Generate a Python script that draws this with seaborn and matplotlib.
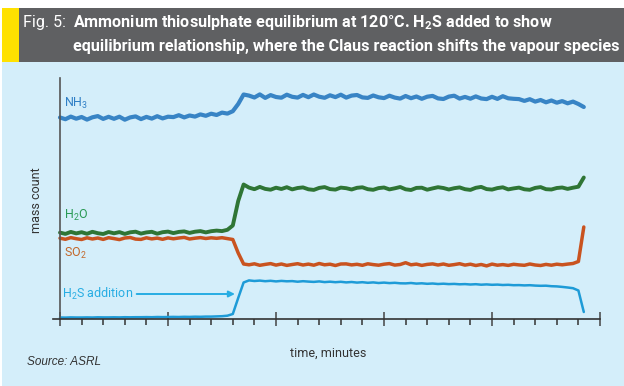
import numpy as np
import matplotlib.pyplot as plt
import seaborn as sns
from matplotlib.patches import Rectangle

# time axis (minutes), one sample every quarter minute
minutes = np.arange(0, 24.5, 0.25)

# mass count traces (arbitrary units)
nh3 = [201.5, 199.8, 202.4, 200.3, 202.0, 199.4, 201.7, 202.9, 200.1, 202.2,
       200.2, 202.3, 199.3, 201.6, 202.6, 199.9, 202.1, 200.4, 202.8, 200.6,
       202.3, 201.9, 203.8, 201.6, 203.5, 202.4, 204.6, 203.2, 205.3, 204.0,
       206.4, 205.4, 207.8, 215.0, 224.5,
       223.4, 221.5, 224.6, 221.1, 223.9, 222.0, 221.3, 224.3, 222.2, 221.4,
       224.1, 221.8, 224.5, 222.3, 221.2, 223.7, 221.9, 224.3, 221.4, 223.4,
       224.0, 221.6, 221.1, 223.5, 221.7, 220.9, 223.3, 221.4, 220.4, 223.0,
       220.8, 222.5, 220.2, 222.3, 223.1, 220.6, 220.0, 222.4, 223.3, 220.4,
       222.1, 220.3, 222.6, 220.5, 219.9, 222.2, 220.1, 222.8, 220.7, 220.2,
       219.9, 218.1, 219.8, 217.4, 219.0, 216.7, 218.5, 216.3, 217.9, 215.7,
       217.4, 215.0, 212.0]

h2o = [86.4, 85.1, 87.1, 85.6, 86.8, 85.2, 87.2, 85.8, 85.0, 87.0,
       85.7, 86.9, 85.1, 86.7, 87.3, 85.4, 86.6, 87.2, 85.3, 86.8,
       87.4, 85.9, 87.1, 87.6, 86.1, 87.3, 87.9, 86.6, 87.8, 88.4,
       87.9, 89.2, 93.5, 118.0, 134.5,
       131.4, 129.8, 132.1, 130.1, 129.3, 131.3, 130.0, 131.8, 129.6, 131.0,
       131.6, 129.7, 129.1, 131.1, 131.9, 129.9, 129.4, 131.4, 130.8, 129.5,
       131.2, 131.7, 129.8, 129.2, 130.9, 131.5, 129.6, 130.7, 132.0, 129.7,
       129.0, 131.1, 131.3, 129.3, 130.6, 131.8, 131.0, 129.5, 130.8, 131.6,
       129.8, 129.1, 131.2, 132.1, 129.9, 129.4, 130.9, 131.7, 129.6, 130.6,
       131.4, 129.7, 129.2, 131.1, 131.9, 129.8, 129.5, 131.0, 131.5, 130.1,
       131.3, 132.3, 141.5]

so2 = [80.8, 79.7, 81.4, 80.3, 79.5, 81.2, 80.0, 81.0, 79.6, 81.3,
       80.4, 79.4, 81.0, 81.5, 79.9, 79.6, 81.2, 80.1, 80.9, 79.7,
       81.1, 80.2, 81.0, 81.6, 80.0, 80.8, 81.4, 80.5, 81.2, 80.7,
       81.3, 80.4, 79.5, 66.0, 55.0,
       54.2, 55.2, 53.7, 54.6, 55.4, 53.9, 55.0, 53.6, 54.5, 55.3,
       54.0, 54.9, 53.8, 55.5, 54.2, 54.8, 53.5, 55.0, 55.1, 54.1,
       54.7, 53.7, 55.2, 54.4, 53.8, 54.8, 55.4, 53.9, 54.5, 56.3,
       54.2, 54.9, 53.6, 54.6, 55.1, 54.0, 55.0, 53.7, 54.4, 55.3,
       53.9, 54.8, 53.5, 54.5, 53.1, 54.9, 53.8, 54.4, 53.6, 54.7,
       54.1, 53.7, 55.0, 54.0, 53.5, 54.6, 53.8, 54.8, 54.2, 54.9,
       55.5, 57.5, 92.0]

h2s = [1.5, 1.4, 1.6, 1.5, 1.5, 1.6, 1.5, 1.7, 1.6, 1.6,
       1.7, 1.6, 1.8, 1.7, 1.8, 1.8, 1.9, 1.8, 2.0, 1.9,
       2.0, 2.1, 2.0, 2.2, 2.1, 2.3, 2.2, 2.4, 2.4, 2.6,
       2.8, 3.3, 5.0, 21.0, 36.5,
       38.6, 38.0, 38.4, 37.8, 38.2, 37.6, 38.1, 37.7, 37.9, 37.3,
       37.8, 37.4, 37.1, 37.6, 36.9, 37.3, 36.8, 37.2, 36.6, 37.0,
       36.4, 36.8, 36.2, 36.6, 36.0, 36.4, 35.9, 36.2, 35.7, 35.6,
       36.0, 35.4, 35.7, 35.2, 35.5, 35.0, 35.3, 34.9, 35.1, 34.7,
       34.9, 34.5, 34.8, 34.3, 34.6, 34.2, 34.4, 34.0, 34.2, 33.8,
       33.9, 33.6, 33.8, 33.4, 33.2, 33.3, 32.8, 32.6, 32.1, 31.5,
       30.8, 28.5, 7.0]

# style
sns.set_style("white")
plt.rcParams['font.family'] = ['Roboto', 'DejaVu Sans']
plt.rcParams['mathtext.fontset'] = 'custom'
plt.rcParams['mathtext.rm'] = 'Roboto'
plt.rcParams['mathtext.it'] = 'Roboto:italic'
plt.rcParams['mathtext.bf'] = 'Roboto:bold'

W, H = 624, 386
bg = '#d4eefa'
fig = plt.figure(figsize=(W / 100, H / 100), dpi=100)
fig.patch.set_facecolor('white')

# panel background, title bar and yellow tab
fig.add_artist(Rectangle((2 / W, 0), 1, 1 - 62 / H, transform=fig.transFigure,
                         facecolor=bg, edgecolor='none', zorder=0))
fig.add_artist(Rectangle((2 / W, 1 - 62 / H), 1, 54 / H, transform=fig.transFigure,
                         facecolor='#5f6062', edgecolor='none', zorder=0))
fig.add_artist(Rectangle((2 / W, 1 - 62 / H), 17 / W, 54 / H, transform=fig.transFigure,
                         facecolor='#ffe100', edgecolor='none', zorder=0))

# title: size chosen so that the second line fills the bar
renderer = fig.canvas.get_renderer()
t_fig = fig.text(23 / W, 1 - 22 / H, "Fig. 5:", color='white', fontsize=10, va='center')
t_l1 = fig.text(73 / W, 1 - 22 / H,
                r"Ammonium thiosulphate equilibrium at 120°C. H$_\mathbf{2}$S added to show",
                color='white', fontsize=10, fontweight='bold', va='center')
t_l2 = fig.text(73 / W, 1 - 46 / H,
                "equilibrium relationship, where the Claus reaction shifts the vapour species",
                color='white', fontsize=10, fontweight='bold', va='center')
w2 = t_l2.get_window_extent(renderer).width
size = 10 * (621 - 73) / w2
for t in (t_fig, t_l1, t_l2):
    t.set_fontsize(size)

# plot area
ax = fig.add_axes([53 / W, 1 - 319 / H, (600 - 53) / W, (319 - 78) / H])
ax.set_facecolor('none')

sns.lineplot(x=minutes, y=nh3, ax=ax, color='#3884c5', lw=3.0)
sns.lineplot(x=minutes, y=h2o, ax=ax, color='#2f7535', lw=2.8)
sns.lineplot(x=minutes, y=so2, ax=ax, color='#c9531f', lw=2.5)
sns.lineplot(x=minutes, y=h2s, ax=ax, color='#1e9bd7', lw=1.8)

ax.set_xlim(-7 / 21.6, 25)
ax.set_ylim(0, 241)
ax.spines['left'].set_position(('data', 0))
ax.spines['left'].set_color('#555555')
ax.spines['left'].set_linewidth(1.2)
ax.spines['bottom'].set_color('#333333')
ax.spines['bottom'].set_linewidth(1.2)
ax.spines['top'].set_visible(False)
ax.spines['right'].set_visible(False)

ax.set_xticks([0, 5, 10, 15, 20, 25])
ax.set_xticks(range(0, 26), minor=True)
ax.set_yticks([])
ax.tick_params(axis='x', which='major', bottom=True, direction='inout', length=9.5,
               width=1.1, color='#444444', labelbottom=False)
ax.tick_params(axis='x', which='minor', bottom=True, direction='out', length=4.5,
               width=1.1, color='#333333')
ax.set_xlabel('')
ax.set_ylabel('')

# series labels
ax.text(0.2, 216, r"NH$_3$", color='#2f7fc6', fontsize=9, va='center')
ax.text(0.2, 104, r"H$_2$O", color='#2a9a55', fontsize=9, va='center')
ax.text(0.2, 66, r"SO$_2$", color='#c2672a', fontsize=9, va='center')
ax.text(0.1, 25, r"H$_2$S addition", color='#27ade3', fontsize=9, va='center')
ax.annotate("", xy=(8.1, 25), xytext=(3.55, 25),
            arrowprops=dict(arrowstyle='-|>', color='#27ade3', lw=1.4,
                            mutation_scale=9, shrinkA=0, shrinkB=0))

fig.text(37 / W, 1 - 200 / H, "mass count", rotation=90, color='#333333',
         fontsize=9, ha='center', va='center')
fig.text(328 / W, 1 - 353 / H, "time, minutes", color='#333333',
         fontsize=9, ha='center', va='center')
fig.text(27 / W, 1 - 362 / H, "Source: ASRL", color='#333333', fontsize=8.5,
         style='italic', family=['Liberation Sans', 'DejaVu Sans'], va='center')

fig.savefig("out.png", dpi=100, facecolor=fig.get_facecolor())
